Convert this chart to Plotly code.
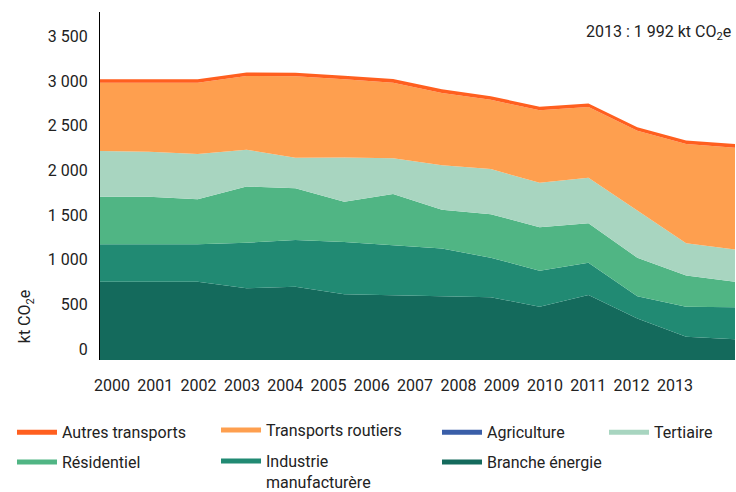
import plotly.graph_objects as go

years = list(range(2000, 2014))
year_labels = [str(y) for y in years]

# kt CO2e par secteur
branche_energie = [754, 754, 754, 680, 698, 614, 605, 593, 579, 474, 605, 341, 138, 109]
industrie = [418, 418, 418, 510, 522, 583, 559, 531, 443, 403, 361, 249, 336, 358]
residentiel = [533, 533, 504, 629, 579, 451, 571, 435, 488, 485, 441, 432, 348, 287]
tertiaire = [512, 504, 507, 412, 343, 497, 400, 498, 504, 500, 510, 523, 361, 360]
agriculture = [0, 0, 0, 0, 0, 0, 0, 0, 0, 0, 0, 0, 0, 0]
transports_routiers = [763, 771, 797, 826, 912, 874, 847, 810, 777, 810, 792, 899, 1111, 1140]
autres_transports = [40, 40, 40, 40, 40, 40, 40, 40, 40, 40, 40, 40, 40, 40]

y_ticks = [0, 500, 1000, 1500, 2000, 2500, 3000, 3500]

series = [
    ("Branche énergie", branche_energie, "#146a5c", "legend3"),
    ("Industrie<br>manufacturère", industrie, "#218a73", "legend2"),
    ("Résidentiel", residentiel, "#50b584", "legend"),
    ("Tertiaire", tertiaire, "#a8d5c0", "legend4"),
    ("Agriculture", agriculture, "#3a5ea8", "legend3"),
    ("Transports routiers", transports_routiers, "#fe9f4f", "legend2"),
    ("Autres transports", autres_transports, "#ff5f1f", "legend"),
]

# ordre d'affichage dans les légendes (colonnes)
legend_order = ["Autres transports", "Résidentiel", "Transports routiers",
                "Industrie<br>manufacturère", "Agriculture", "Branche énergie", "Tertiaire"]

FONT = "Roboto, 'Open Sans', sans-serif"
Y_MIN = -123

fig = go.Figure()

for name, vals, color, leg in series:
    fig.add_trace(go.Scatter(
        x=years, y=vals, name=name, stackgroup="one",
        mode="lines", line=dict(color=color, width=0),
        fillcolor=color, showlegend=False, hoverinfo="skip"
    ))

colors = {s[0]: s[2] for s in series}
legends = {s[0]: s[3] for s in series}
for name in legend_order:
    fig.add_trace(go.Scatter(
        x=[None], y=[None], mode="lines", name=name, xaxis="x2",
        line=dict(color=colors[name], width=5),
        legend=legends[name], legendgroup=name
    ))

# bande sous zéro jusqu'au bas du graphique
fig.add_shape(type="rect", xref="x domain", x0=0, x1=1, yref="y",
              y0=Y_MIN, y1=30, fillcolor="#146a5c", line_width=0, layer="below")

legend_common = dict(orientation="v", yanchor="top", y=-0.159, xanchor="left",
                     font=dict(family=FONT, size=16, color="#222"),
                     tracegroupgap=6, valign="top", itemwidth=40,
                     bgcolor="rgba(0,0,0,0)")

fig.update_layout(
    width=736, height=492,
    margin=dict(l=100, r=1, t=12, b=132, autoexpand=False),
    plot_bgcolor="white", paper_bgcolor="white",
    font=dict(family=FONT, size=16, color="#222"),
    separators=", ",
    xaxis=dict(range=[2000, 2013], showticklabels=False, showline=False,
               showgrid=False, zeroline=False, ticks=""),
    xaxis2=dict(overlaying="x", anchor="y", side="bottom",
                range=[1999.723, 2014.388], tickmode="array",
                tickvals=years, ticktext=year_labels, showgrid=False,
                zeroline=False, showline=False, ticks="",
                ticklabelstandoff=14, tickfont=dict(size=16, color="#222")),
    yaxis=dict(range=[Y_MIN, 3773], tickmode="array", tickvals=y_ticks,
               tickformat=",d", showgrid=False, zeroline=False,
               showline=True, linecolor="black", linewidth=1, ticks="",
               ticklabelstandoff=8, tickfont=dict(size=16, color="#222")),
    legend=dict(legend_common, x=-0.1386),
    legend2=dict(legend_common, x=0.1827, yanchor="bottom", y=-0.40,
                 tracegroupgap=7),
    legend3=dict(legend_common, x=0.5307),
    legend4=dict(legend_common, x=0.7937),
    showlegend=True,
    annotations=[
        dict(text="2013 : 1 992 kt CO<sub>2</sub>e", xref="paper", yref="paper",
             x=0.997, y=1, xanchor="right", yanchor="top", showarrow=False,
             font=dict(size=16, color="#222"), yshift=-8),
        dict(text="kt CO<sub>2</sub>e", xref="paper", yref="paper",
             x=-0.117, xanchor="center", y=0.125, yanchor="middle",
             textangle=-90, showarrow=False, font=dict(size=16, color="#222")),
    ],
)

# la page par défaut a une marge de 8 px autour du graphique
fig.write_html("out.html", config={"displayModeBar": False},
               post_script="document.body.style.margin='0';"
                           "document.body.style.overflow='hidden';")
